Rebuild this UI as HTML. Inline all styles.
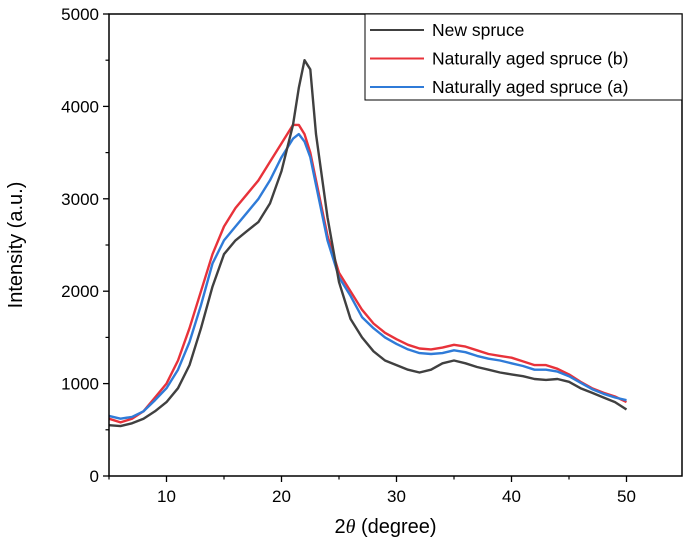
<!DOCTYPE html>
<html><head><meta charset="utf-8"><style>
body{margin:0;background:#fff}
svg{font-family:"Liberation Sans",Arial,sans-serif}
</style></head><body>
<svg id="chart" width="685" height="553"></svg>
<script>
const xs=[5,6,7,8,9,10,11,12,13,14,15,16,17,18,19,20,21,21.5,22,22.5,23,24,25,26,27,28,29,30,31,32,33,34,35,36,37,38,39,40,41,42,43,44,45,46,47,48,49,50];
const newSpruce=[550,540,570,620,700,800,950,1200,1600,2050,2400,2550,2650,2750,2950,3300,3800,4200,4500,4400,3700,2800,2100,1700,1500,1350,1250,1200,1150,1120,1150,1220,1250,1220,1180,1150,1120,1100,1080,1050,1040,1050,1020,950,900,850,800,720];
const agedB=[620,580,620,700,850,1000,1250,1600,2000,2400,2700,2900,3050,3200,3400,3600,3800,3800,3700,3500,3200,2600,2200,2000,1800,1650,1550,1480,1420,1380,1370,1390,1420,1400,1360,1320,1300,1280,1240,1200,1200,1160,1100,1020,950,900,860,800];
const agedA=[650,620,640,700,820,950,1150,1450,1850,2300,2550,2700,2850,3000,3200,3450,3650,3700,3620,3450,3150,2550,2150,1950,1720,1600,1500,1430,1370,1330,1320,1330,1360,1340,1300,1270,1250,1220,1190,1150,1150,1130,1080,1010,940,890,850,820];
const xTicks=[10,20,30,40,50];
const yTicks=[0,1000,2000,3000,4000,5000];
const seriesNames=["New spruce","Naturally aged spruce (b)","Naturally aged spruce (a)"];
const seriesColors=["#404040","#e8323a","#2f7bd8"];

const L=109,R=684,T=14,B=476,X0=5,X1=55,Y0=0,Y1=5000,FR=682;
const sx=v=>L+(v-X0)/(X1-X0)*(R-L);
const sy=v=>B-(v-Y0)/(Y1-Y0)*(B-T);
const svg=document.getElementById('chart');
const NS="http://www.w3.org/2000/svg";
function mk(t,a,txt){const e=document.createElementNS(NS,t);for(const k in a)e.setAttribute(k,a[k]);if(txt!=null)e.textContent=txt;svg.appendChild(e);return e;}

const order=[[agedB,1],[agedA,2],[newSpruce,0]];
order.forEach(([ys,i])=>{
  const d=xs.map((x,j)=>(j?'L':'M')+sx(x).toFixed(1)+','+sy(ys[j]).toFixed(1)).join('');
  const p=mk('path',{d:d,fill:'none',stroke:seriesColors[i],'stroke-width':2.4,'stroke-linejoin':'round'});
  
  
});

const f=mk('rect',{x:L,y:T,width:FR-L,height:B-T,fill:'none',stroke:'#000','stroke-width':1.5});



xTicks.forEach(v=>{
  mk('line',{x1:sx(v),x2:sx(v),y1:B,y2:B+6,stroke:'#000','stroke-width':1.3});
  const t=mk('text',{x:sx(v),y:B+26,'text-anchor':'middle','font-size':17},String(v));
  
  
});
for(let v=5;v<=55;v+=10) if(sx(v)<=FR) mk('line',{x1:sx(v),x2:sx(v),y1:B,y2:B+3.5,stroke:'#000','stroke-width':1.2});
yTicks.forEach(v=>{
  mk('line',{x1:L-6,x2:L,y1:sy(v),y2:sy(v),stroke:'#000','stroke-width':1.3});
  const t=mk('text',{x:L-10,y:sy(v)+6,'text-anchor':'end','font-size':17},String(v));
  
  
});
for(let v=500;v<5000;v+=1000) mk('line',{x1:L-3.5,x2:L,y1:sy(v),y2:sy(v),stroke:'#000','stroke-width':1.2});

const xt=mk('text',{x:(L+FR)/2-10,y:533,'text-anchor':'middle','font-size':20});
xt.innerHTML='2<tspan font-style="italic" font-family="Liberation Serif">θ</tspan> (degree)';


const yt=mk('text',{x:0,y:0,'text-anchor':'middle','font-size':20,transform:`translate(22,${(T+B)/2}) rotate(-90)`},'Intensity (a.u.)');



const lg=mk('rect',{x:365,y:14,width:317,height:86,fill:'#fff',stroke:'#000','stroke-width':1});


seriesNames.forEach((n,i)=>{
  const y=30+i*28.5;
  mk('line',{x1:370,x2:424,y1:y,y2:y,stroke:seriesColors[i],'stroke-width':2});
  const t=mk('text',{x:432,y:y+6,'font-size':17.5},n);
  
  
});
</script>
</body></html>
